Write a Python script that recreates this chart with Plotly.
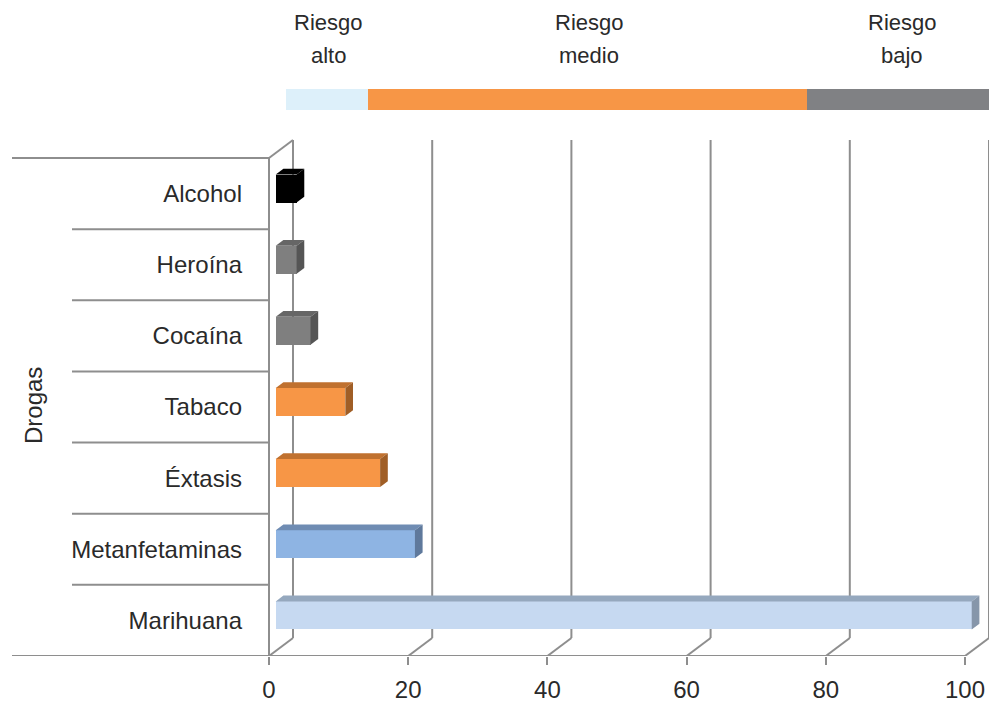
import plotly.graph_objects as go

# ---------------- data ----------------
categories = ["Marihuana", "Metanfetaminas", "Éxtasis", "Tabaco", "Cocaína", "Heroína", "Alcohol"]
values = [100, 20, 15, 10, 5, 3, 3]
front_colors = ["#C6D9F1", "#8EB4E3", "#F79646", "#F79646", "#7F7F7F", "#7F7F7F", "#000000"]
top_colors = ["#95A8BE", "#6F8CB3", "#C0712F", "#C0712F", "#666666", "#666666", "#000000"]
side_colors = ["#8696AA", "#5F799C", "#A05E26", "#A05E26", "#555555", "#555555", "#000000"]
x_ticks = [0, 20, 40, 60, 80, 100]
risk_line1 = ["Riesgo", "Riesgo", "Riesgo"]
risk_line2 = ["alto", "medio", "bajo"]
risk_colors = ["#DDF0FA", "#F79646", "#808184"]

# ---------------- geometry (style) ----------------
W, H = 989, 702
PLOT_L = 259            # px where plot area starts
PX_PER_UNIT = 6.96      # x px per value unit
ROW_PX = 71.14          # px per category row
FLOOR_PX = 656
X_MIN = -(269 - PLOT_L) / PX_PER_UNIT
X_MAX = X_MIN + (W - PLOT_L) / PX_PER_UNIT
Y_MIN = -0.5
Y_MAX = Y_MIN + FLOOR_PX / ROW_PX
DX = 24 / PX_PER_UNIT   # depth shift, value units
DY = 18 / ROW_PX        # depth shift, row units
F_D, B_D = 0.28, 0.60   # bar front/back depth fractions
HALF = 0.197            # half bar height (rows)
n = len(categories)
GRID = "#8E8E8E"
TXT = "#2A2A2A"
FONT = "Liberation Sans, Arial, sans-serif"

fig = go.Figure()

# bar top and side faces
for i, (v, tc, sc) in enumerate(zip(values, top_colors, side_colors)):
    fx0, fx1 = F_D * DX, F_D * DX + v
    fy0, fy1 = i + F_D * DY - HALF, i + F_D * DY + HALF
    bdx, bdy = (B_D - F_D) * DX, (B_D - F_D) * DY
    fig.add_trace(go.Scatter(
        x=[fx0, fx1, fx1 + bdx, fx0 + bdx, fx0],
        y=[fy1, fy1, fy1 + bdy, fy1 + bdy, fy1],
        fill="toself", fillcolor=tc, line=dict(width=0), mode="lines",
        hoverinfo="skip", showlegend=False))
    fig.add_trace(go.Scatter(
        x=[fx1, fx1 + bdx, fx1 + bdx, fx1, fx1],
        y=[fy0, fy0 + bdy, fy1 + bdy, fy1, fy0],
        fill="toself", fillcolor=sc, line=dict(width=0), mode="lines",
        hoverinfo="skip", showlegend=False))

# bar front faces
fig.add_trace(go.Bar(
    orientation="h",
    y=[i + F_D * DY for i in range(n)],
    x=values,
    base=[F_D * DX] * n,
    width=2 * HALF,
    marker=dict(color=front_colors, line=dict(width=0)),
    showlegend=False, hoverinfo="skip"))

shapes = []
line = dict(color=GRID, width=2)
# back wall gridlines and floor diagonals
for t in x_ticks:
    shapes.append(dict(type="line", xref="x", yref="y", x0=t, y0=Y_MIN, x1=t + DX, y1=Y_MIN + DY,
                       line=line, layer="below"))
    shapes.append(dict(type="line", xref="x", yref="y", x0=t + DX, y0=Y_MIN + DY, x1=t + DX,
                       y1=Y_MIN + n + DY, line=line, layer="below"))
# floor front edge
shapes.append(dict(type="line", xref="x", yref="y", x0=0, y0=Y_MIN, x1=100, y1=Y_MIN, line=line, layer="below"))
# left wall: front edge and top diagonal
shapes.append(dict(type="line", xref="x", yref="y", x0=0, y0=Y_MIN, x1=0, y1=Y_MIN + n, line=line, layer="below"))
shapes.append(dict(type="line", xref="x", yref="y", x0=0, y0=Y_MIN + n, x1=DX, y1=Y_MIN + n + DY,
                   line=line, layer="below"))
# category separators to the left
plot_w = W - PLOT_L
for k in range(n + 1):
    left_px = 12 if k in (0, n) else 72
    shapes.append(dict(type="line", xref="paper", yref="y",
                       x0=(left_px - PLOT_L) / plot_w, x1=(269 - PLOT_L) / plot_w,
                       y0=Y_MIN + k, y1=Y_MIN + k, line=line, layer="below"))
# risk band
band_px = [286, 368, 807, 989]
label_px = [328, 589, 902]
def px2p(px):
    return (px - PLOT_L) / plot_w
def py2p(py):
    return (FLOOR_PX - py) / FLOOR_PX
for j, c in enumerate(risk_colors):
    shapes.append(dict(type="rect", xref="paper", yref="paper",
                       x0=px2p(band_px[j]), x1=px2p(band_px[j + 1]),
                       y0=py2p(110), y1=py2p(89), fillcolor=c, line=dict(width=0)))

annotations = []
for j in range(len(risk_colors)):
    for txt, ypx in ((risk_line1[j], 22), (risk_line2[j], 55)):
        annotations.append(dict(xref="paper", yref="paper", x=px2p(label_px[j]), y=py2p(ypx),
                                text=txt, showarrow=False, xanchor="center", yanchor="middle",
                                font=dict(size=22, color=TXT, family=FONT)))
annotations.append(dict(xref="paper", yref="paper", x=px2p(33), y=py2p(406), text="Drogas",
                        textangle=-90, showarrow=False, xanchor="center", yanchor="middle",
                        font=dict(size=24, color=TXT, family=FONT)))

fig.update_layout(
    width=W, height=H,
    margin=dict(l=PLOT_L, r=0, t=0, b=H - FLOOR_PX, autoexpand=False),
    paper_bgcolor="white", plot_bgcolor="white",
    font=dict(family=FONT, color=TXT, size=24),
    shapes=shapes, annotations=annotations,
    bargap=0,
    xaxis=dict(range=[X_MIN, X_MAX], tickvals=x_ticks, ticks="outside", ticklen=8,
               tickwidth=2, tickcolor=GRID, showgrid=False, zeroline=False, showline=False,
               ticklabelstandoff=4, automargin=False,
               tickfont=dict(size=24, color=TXT, family=FONT), fixedrange=True),
    yaxis=dict(range=[Y_MIN, Y_MAX], tickvals=list(range(n)), ticktext=categories,
               ticks="", showgrid=False, zeroline=False, showline=False,
               ticklabelstandoff=PLOT_L - 243, automargin=False,
               tickfont=dict(size=24, color=TXT, family=FONT), fixedrange=True),
)

fig.write_html("out.html", config={"displayModeBar": False},
               post_script="document.body.style.margin='0';document.body.style.overflow='hidden';")
